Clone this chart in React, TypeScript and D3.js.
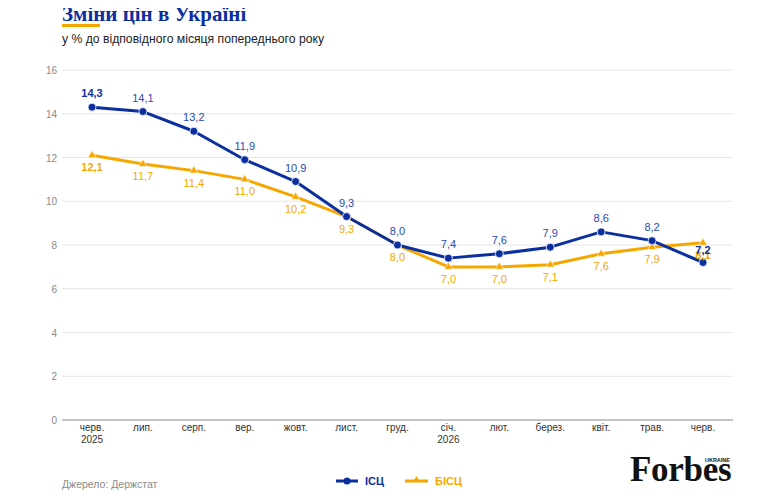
import React from 'react';
import * as d3 from 'd3';

const months = ['черв.', 'лип.', 'серп.', 'вер.', 'жовт.', 'лист.', 'груд.', 'січ.', 'лют.', 'берез.', 'квіт.', 'трав.', 'черв.'];
const years = ['2025', '', '', '', '', '', '', '2026', '', '', '', '', ''];
const cpi = [14.3, 14.1, 13.2, 11.9, 10.9, 9.3, 8.0, 7.4, 7.6, 7.9, 8.6, 8.2, 7.2];
const core = [12.1, 11.7, 11.4, 11.0, 10.2, 9.3, 8.0, 7.0, 7.0, 7.1, 7.6, 7.9, 8.1];
const yTicks = [0, 2, 4, 6, 8, 10, 12, 14, 16];

const BLUE = '#0b2f9f';
const BLUE_LABEL = '#2a4bb0';
const ORANGE = '#f5a700';
const FONT = '"Liberation Sans", Arial, sans-serif';
const SERIF = '"Liberation Serif", "DejaVu Serif", serif';

const fmt = (v: number) => v.toFixed(1).replace('.', ',');

export default function App() {
  const width = 764;
  const height = 500;

  const x = d3.scalePoint<number>().domain(d3.range(months.length)).range([92, 703]);
  const y = d3.scaleLinear().domain([0, 16]).range([420, 70]);

  const line = d3.line<number>().x((_, i) => x(i)!).y((d) => y(d));
  const tri = d3.symbol().type(d3.symbolTriangle).size(30)();
  const last = months.length - 1;

  return (
    <div style={{ margin: -8 }}>
      <svg width={width} height={height} style={{ display: 'block', background: '#fff' }} fontFamily={FONT}>
        {/* header */}
        <text x={62} y={21} fontFamily={SERIF} fontWeight={700} fontSize={21} fill={BLUE}>
          Зміни цін в Україні
        </text>
        <rect x={62} y={24} width={38} height={3} fill={ORANGE} />
        <text x={62} y={43} fontSize={12.2} fill="#222">
          у % до відповідного місяця попереднього року
        </text>

        {/* grid */}
        {yTicks.map((t) => (
          <g key={t}>
            {t > 0 && <line x1={62} x2={733} y1={y(t)} y2={y(t)} stroke="#e6e6e6" strokeWidth={1} />}
            <text x={57} y={y(t) + 4} textAnchor="end" fontSize={10} fill="#8a8a8a">{t}</text>
          </g>
        ))}
        <line x1={62} x2={733} y1={y(0)} y2={y(0)} stroke="#b0b0b0" strokeWidth={1.5} />

        {/* x labels */}
        {months.map((m, i) => (
          <g key={i}>
            <text x={x(i)} y={431} textAnchor="middle" fontSize={10} fill="#333">{m}</text>
            {years[i] && (
              <text x={x(i)} y={443} textAnchor="middle" fontSize={10} fill="#333">{years[i]}</text>
            )}
          </g>
        ))}

        {/* lines */}
        <path d={line(core) || ''} fill="none" stroke={ORANGE} strokeWidth={3} strokeLinejoin="round" />
        <path d={line(cpi) || ''} fill="none" stroke={BLUE} strokeWidth={3} strokeLinejoin="round" />

        {core.map((v, i) => (
          <path key={i} d={tri || ''} transform={`translate(${x(i)},${y(v)})`} fill={ORANGE} stroke="#fff" strokeWidth={0.6} />
        ))}
        {cpi.map((v, i) => (
          <circle key={i} cx={x(i)} cy={y(v)} r={4} fill={BLUE} stroke="#fff" strokeWidth={0.8} />
        ))}

        {/* labels */}
        {core.map((v, i) => (
          <text key={i} x={x(i)} y={y(v) + 16} textAnchor="middle" fontSize={11}
            fontWeight={i === 0 || i === last ? 700 : 400} fill={ORANGE}>
            {fmt(v)}
          </text>
        ))}
        {cpi.map((v, i) => (
          <text key={i} x={x(i)} y={i === last ? y(v) - 9 : y(v) - 10} textAnchor="middle" fontSize={11}
            fontWeight={i === 0 || i === last ? 700 : 400} fill={i === 0 || i === last ? BLUE : BLUE_LABEL}>
            {fmt(v)}
          </text>
        ))}

        {/* footer */}
        <text x={62} y={488} fontSize={10.5} fill="#8a8a8a">Джерело: Держстат</text>

        <line x1={336} x2={358} y1={481} y2={481} stroke={BLUE} strokeWidth={3} />
        <circle cx={347} cy={481} r={3.5} fill={BLUE} />
        <text x={365} y={485} fontSize={11} fontWeight={700} fill={BLUE}>ІСЦ</text>

        <line x1={405} x2={428} y1={481} y2={481} stroke={ORANGE} strokeWidth={3} />
        <path d={d3.symbol().type(d3.symbolTriangle).size(22)() || ''} transform="translate(416.5,480)" fill={ORANGE} />
        <text x={435} y={485} fontSize={11} fontWeight={700} fill={ORANGE}>БІСЦ</text>

        <text x={630} y={481} fontFamily={SERIF} fontWeight={700} fontSize={35}
          fill="#111" letterSpacing={-0.3}>
          Forbes
        </text>
        <text x={730} y={462} textAnchor="end" fontSize={5.5} fontWeight={700} fill="#111">UKRAINE</text>
      </svg>
    </div>
  );
}
